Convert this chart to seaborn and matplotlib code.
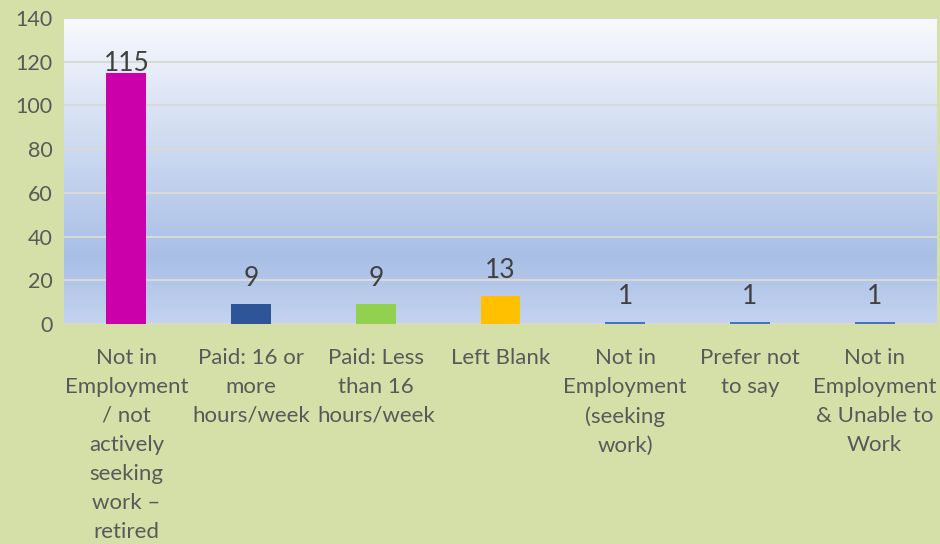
import matplotlib
matplotlib.use("Agg")
import matplotlib.pyplot as plt
import seaborn as sns
import numpy as np
import pandas as pd
from matplotlib.colors import LinearSegmentedColormap

# Data
categories = [
    "Not in\nEmployment\n/ not\nactively\nseeking\nwork \u2013\nretired",
    "Paid: 16 or\nmore\nhours/week",
    "Paid: Less\nthan 16\nhours/week",
    "Left Blank",
    "Not in\nEmployment\n(seeking\nwork)",
    "Prefer not\nto say",
    "Not in\nEmployment\n& Unable to\nWork",
]
counts = [115, 9, 9, 13, 1, 1, 1]
bar_colors = ["#cc00aa", "#2e5597", "#92d050", "#ffc000", "#4472c4", "#4472c4", "#4472c4"]

df = pd.DataFrame({"category": categories, "count": counts})

sns.set_style("white")
plt.rcParams["font.family"] = ["Lato", "DejaVu Sans"]

text_grey = "#595959"
fig = plt.figure(figsize=(9.4, 5.44), dpi=100)
fig.patch.set_facecolor("#d5e0a8")
ax = fig.add_axes([64 / 940, (544 - 324) / 544, (937 - 64) / 940, (324 - 18) / 544])

# gradient plot-area fill
grad = LinearSegmentedColormap.from_list(
    "bg", [(0.0, "#c4d3ef"), (0.22, "#a9bfe6"), (1.0, "#f8f9fd")]
)
ax.imshow(np.linspace(0, 1, 256).reshape(-1, 1), cmap=grad, origin="lower",
          aspect="auto", extent=[0, 1, 0, 1], transform=ax.transAxes, zorder=0)

sns.barplot(data=df, x="category", y="count", hue="category", palette=bar_colors,
            width=0.32, legend=False, ax=ax, zorder=3, saturation=1, linewidth=0)

ax.set_ylim(0, 140)
ax.set_xlim(-0.5, len(categories) - 0.5)
ax.set_yticks(range(0, 141, 20))
for y in range(20, 141, 20):
    ax.axhline(y, color="#d9d9d9", lw=1.5, zorder=1)
ax.axhline(0, color="#d9d9d9", lw=1.5, zorder=1)

for s in ax.spines.values():
    s.set_visible(False)

ax.set_xlabel(None)
ax.set_ylabel(None)
ax.set_xticks(range(len(categories)))
ax.set_xticklabels(categories, linespacing=1.57)
ax.tick_params(axis="y", labelsize=15.5, colors=text_grey, length=0, pad=8)
ax.tick_params(axis="x", labelsize=16, colors=text_grey, length=0, pad=17)

# value labels
for i, v in enumerate(counts):
    off = 1 if v > 100 else 13
    ax.annotate(str(v), (i, v), xytext=(0, off), textcoords="offset points",
                ha="center", va="baseline", fontsize=19, color="#404040", zorder=5)

fig.savefig("out.png", dpi=100, facecolor=fig.get_facecolor())
